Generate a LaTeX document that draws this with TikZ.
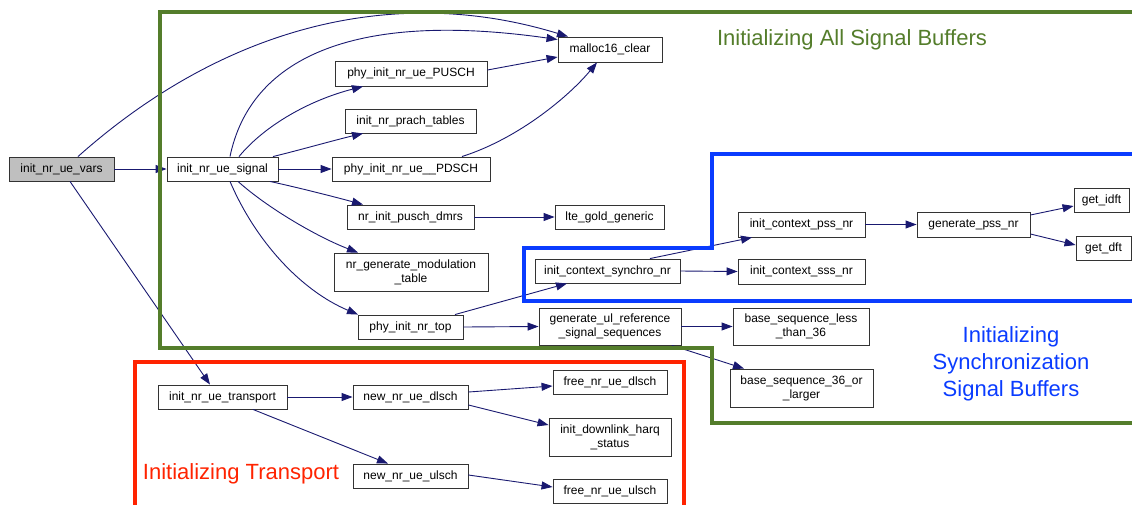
\documentclass[tikz,border=0pt]{standalone}
\usepackage{fontspec}
\setmainfont{Liberation Sans}
\usetikzlibrary{arrows.meta}
\definecolor{edgeblue}{HTML}{191970}
\definecolor{boxline}{HTML}{333333}
\definecolor{callerfill}{HTML}{BFBFBF}
\definecolor{grpgreen}{RGB}{84,125,43}
\definecolor{grpblue}{RGB}{10,60,255}
\definecolor{grpred}{RGB}{255,35,0}
\tikzset{
  fn/.style={draw=boxline, line width=0.9pt, fill=white, inner sep=2pt,
    align=center, font=\fontsize{12}{14}\selectfont, minimum height=24pt},
  call/.style={draw=edgeblue, line width=0.9pt,
    -{Triangle[length=11pt,width=8pt]}},
  grp/.style={line width=4pt},
  grplabel/.style={font=\fontsize{22}{27}\selectfont, align=center, inner sep=0pt}
}
\begin{document}
\begin{tikzpicture}[x=1pt,y=-1pt]
\useasboundingbox (0,0) rectangle (1132,504);
\clip (0,0) rectangle (1132,504);

% functions
\node[fn, fill=callerfill, minimum width=105pt] (vars) at (61.5,169) {init\_nr\_ue\_vars};
\node[fn, minimum width=111pt] (sig) at (222.5,169) {init\_nr\_ue\_signal};
\node[fn, minimum width=104pt, minimum height=25pt] (mal) at (610,49.5) {malloc16\_clear};
\node[fn, minimum width=152pt, minimum height=25pt] (pusch) at (411,73.5) {phy\_init\_nr\_ue\_PUSCH};
\node[fn, minimum width=131pt] (prach) at (410.5,121) {init\_nr\_prach\_tables};
\node[fn, minimum width=158pt] (pdsch) at (411,169) {phy\_init\_nr\_ue\_\_PDSCH};
\node[fn, minimum width=127pt] (dmrs) at (410.5,217) {nr\_init\_pusch\_dmrs};
\node[fn, minimum width=109pt] (gold) at (609.5,217) {lte\_gold\_generic};
\node[fn, minimum width=154pt, minimum height=38pt] (modt) at (411,272) {nr\_generate\_modulation\\\_table};
\node[fn, minimum width=105pt] (top) at (410.5,327) {phy\_init\_nr\_top};
\node[fn, minimum width=145pt] (synchro) at (607.5,271) {init\_context\_synchro\_nr};
\node[fn, minimum width=127pt, minimum height=25pt] (pss) at (801.5,224.5) {init\_context\_pss\_nr};
\node[fn, minimum width=127pt, minimum height=25pt] (sss) at (801.5,271.5) {init\_context\_sss\_nr};
\node[fn, minimum width=113pt, minimum height=25pt] (gpss) at (973.5,224.5) {generate\_pss\_nr};
\node[fn, minimum width=55pt] (idft) at (1101.5,200) {get\_idft};
\node[fn, minimum width=55pt] (dft) at (1103.5,248) {get\_dft};
\node[fn, minimum width=142pt, minimum height=37pt] (ulref) at (610,326.5) {generate\_ul\_reference\\\_signal\_sequences};
\node[fn, minimum width=136pt, minimum height=37pt] (bless) at (801,326.5) {base\_sequence\_less\\\_than\_36};
\node[fn, minimum width=143pt, minimum height=38pt] (b36) at (801.5,388) {base\_sequence\_36\_or\\\_larger};
\node[fn, minimum width=129pt] (trans) at (222.5,397) {init\_nr\_ue\_transport};
\node[fn, minimum width=115pt] (ndl) at (410.5,397) {new\_nr\_ue\_dlsch};
\node[fn, minimum width=115pt] (nul) at (410.5,476) {new\_nr\_ue\_ulsch};
\node[fn, minimum width=114pt] (fdl) at (610,382) {free\_nr\_ue\_dlsch};
\node[fn, minimum width=122pt, minimum height=38pt] (harq) at (610,437) {init\_downlink\_harq\\\_status};
\node[fn, minimum width=114pt] (ful) at (610,491.5) {free\_nr\_ue\_ulsch};

% calls
\draw[call] (vars.east) -- (sig.west);
\draw[call] ([xshift=16.5]vars.north) .. controls (220,30) and (390,-18) .. ([xshift=-42]mal.north);
\draw[call] ([xshift=8.5]vars.south) -- ([xshift=-12.5]trans.north);
\draw[call] ([xshift=7.5]sig.north) .. controls (250,60) and (350,10) .. ([yshift=10]mal.west);
\draw[call] ([xshift=16.5]sig.north) .. controls (265,125) and (310,100) .. ([xshift=-48]pusch.south);
\draw[call] ([xshift=50.5]sig.north) .. controls (300,150) and (335,140) .. ([xshift=-47.5]prach.south);
\draw[call] (sig.east) -- (pdsch.west);
\draw[call] ([xshift=47.5]sig.south) .. controls (300,188) and (335,197) .. ([xshift=-47.5]dmrs.north);
\draw[call] ([xshift=15.5]sig.south) .. controls (270,210) and (320,238) .. ([xshift=-53]modt.north);
\draw[call] ([xshift=7.5]sig.south) .. controls (255,240) and (300,290) .. ([xshift=-52.5]top.north);
\draw[call] ([yshift=3.5]pusch.east) -- ([yshift=-7.5]mal.west);
\draw[call] ([xshift=51]pdsch.north) .. controls (520,138) and (570,95) .. ([xshift=-13]mal.south);
\draw[call] (dmrs.east) -- (gold.west);
\draw[call] ([xshift=44.5]top.north) -- ([xshift=-40.5]synchro.south);
\draw[call] (top.east) -- (ulref.west);
\draw[call] ([xshift=42.5]synchro.north) -- ([xshift=-49.5]pss.south);
\draw[call] (synchro.east) -- (sss.west);
\draw[call] (pss.east) -- (gpss.west);
\draw[call] ([yshift=9.5]gpss.east) -- ([yshift=-6]idft.west);
\draw[call] ([yshift=-9.5]gpss.east) -- ([yshift=3]dft.west);
\draw[call] (ulref.east) -- (bless.west);
\draw[call] ([xshift=62]ulref.south) -- ([xshift=-57.5]b36.north);
\draw[call] (trans.east) -- (ndl.west);
\draw[call] ([xshift=30.5]trans.south) -- ([xshift=-22.5]nul.north);
\draw[call] ([yshift=5]ndl.east) -- ([yshift=-4]fdl.west);
\draw[call] ([yshift=-8]ndl.east) -- ([yshift=12]harq.west);
\draw[call] ([yshift=1]nul.east) -- ([yshift=4.5]ful.west);

% group frames
\draw[grp, draw=grpgreen] (160,12) -- (1145,12) -- (1145,423) -- (712,423) -- (712,348) -- (160,348) -- cycle;
\draw[grp, draw=grpblue] (524,301) -- (524,248) -- (712,248) -- (712,154) -- (1145,154) -- (1145,301) -- cycle;
\draw[grp, draw=grpred] (135,362) -- (684,362) -- (684,520) -- (135,520) -- cycle;

% group captions
\node[grplabel, text=grpgreen] (lblsig) at (852,40) {Initializing All Signal Buffers};
\node[grplabel, text=grpblue] (lblsync) at (1011,364) {Initializing\\Synchronization\\Signal Buffers};
\node[grplabel, text=grpred] (lbltr) at (241,474) {Initializing Transport};
\end{tikzpicture}
\end{document}
